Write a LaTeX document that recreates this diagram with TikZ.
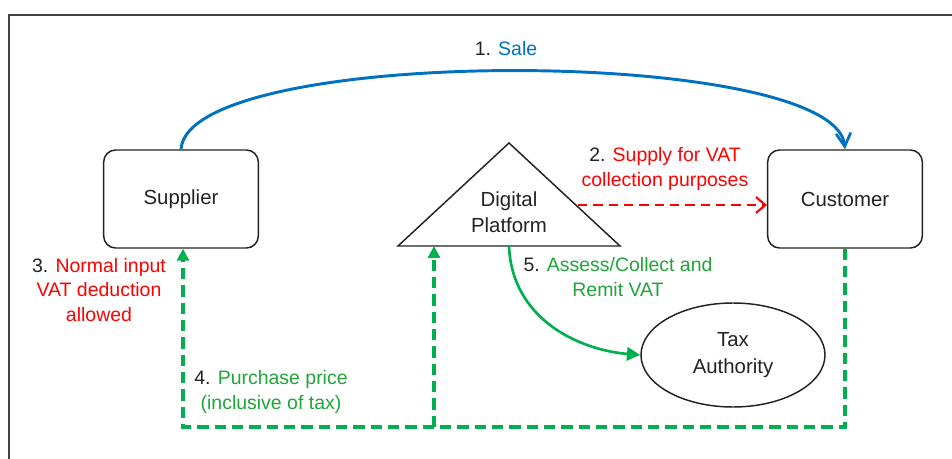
\documentclass[tikz,border=0pt]{standalone}
\usepackage{fontspec}
\setmainfont{Liberation Sans}
\usepackage{xcolor}
\usetikzlibrary{positioning,arrows.meta,shapes.geometric}

\definecolor{saleblue}{HTML}{0070C0}
\definecolor{vatred}{HTML}{FF0000}
\definecolor{paygreen}{HTML}{00B050}
\definecolor{txtgreen}{HTML}{1FA53A}
\definecolor{ink}{HTML}{222222}

\tikzset{
  party/.style={draw=ink, line width=1.1pt, rounded corners=9pt, minimum width=116pt, minimum height=73.5pt, font=\fontsize{15.3}{19.5}\selectfont, text=ink},
  lbl/.style={align=center, font=\fontsize{14.6}{18.2}\selectfont, text=ink},
  flow/.style={line width=2.3pt, paygreen, dash pattern=on 8.5pt off 4.5pt, -{Triangle[length=9pt,width=9pt]}}
}

\begin{document}
\begin{tikzpicture}[x=0.75pt,y=-0.75pt]
  \useasboundingbox (0,0) rectangle (952,459);
  \draw[line width=1pt, ink!85] (9,459) -- (9,15) -- (952,15);

  % parties
  \node[party] (supplier) at (181,199) {Supplier};
  \node[party] (customer) at (845,199) {Customer};
  \node[ellipse, draw=ink, line width=1.1pt, minimum width=138pt, minimum height=78pt, align=center,
        font=\fontsize{15.3}{20}\selectfont, text=ink] (taxauth) at (733,355) {Tax\\Authority};

  % platform
  \coordinate (apex) at (509,143);
  \coordinate (bleft) at (398,246);
  \coordinate (bright) at (620,246);
  \draw[line width=1.1pt, ink, line join=miter] (bleft) -- (apex) -- (bright) -- cycle;
  \node[align=center, font=\fontsize{15.3}{19.5}\selectfont, text=ink] (platform) at (509,212) {Digital\\Platform};
  \coordinate (pright) at (578,205);
  \coordinate (pbase) at (509,246);
  \coordinate (pin) at (434,246);

  % 1. sale
  \draw[line width=2.2pt, saleblue, -{Straight Barb[length=10pt,width=11pt,line width=2pt]}]
    (supplier.north) .. controls (188,44) and (835,46) .. (customer.north);
  \node[lbl] (salelbl) at (506,49) {1. \textcolor{saleblue}{Sale}};

  % 2. supply for VAT collection
  \draw[line width=1.6pt, vatred, dash pattern=on 7pt off 4.5pt, -{Straight Barb[length=7pt,width=12pt,line width=1.6pt]}]
    (pright) -- (customer.west |- pright);
  \node[lbl] (supplylbl) at (665,169) {2. \textcolor{vatred}{Supply for VAT}\\\textcolor{vatred}{collection purposes}};

  % 3./4. purchase price
  \coordinate (bottomr) at (845,427);
  \coordinate (bottoml) at (183,427);
  \coordinate (bottomm) at (434,427);
  \draw[flow] (customer.south) -- (bottomr) -- (bottoml) -- (bottoml |- supplier.south);
  \draw[flow] (bottomm) -- (pin);
  \node[lbl] (deductlbl) at (99,290) {3. \textcolor{vatred}{Normal input}\\\textcolor{vatred}{VAT deduction}\\\textcolor{vatred}{allowed}};
  \node[lbl] (pricelbl) at (271,392) {4. \textcolor{txtgreen}{Purchase price}\\\textcolor{txtgreen}{(inclusive of tax)}};

  % 5. remit
  \draw[line width=2pt, paygreen, -{Triangle[length=10pt,width=10pt]}]
    (pbase) .. controls (512,320) and (580,350) .. (taxauth.west);
  \node[lbl] (remitlbl) at (618,277) {5. \textcolor{txtgreen}{Assess/Collect and}\\\textcolor{txtgreen}{Remit VAT}};
\end{tikzpicture}
\end{document}
